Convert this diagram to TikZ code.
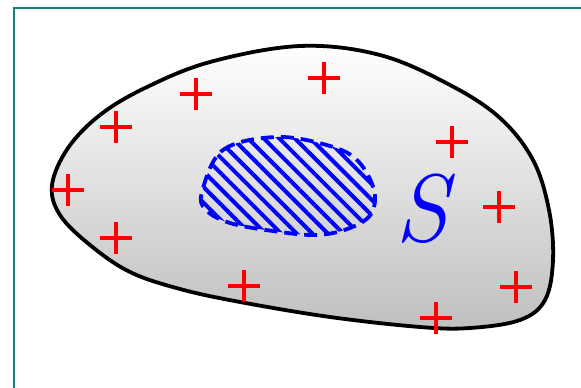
\documentclass[tikz,border=0pt]{standalone}
\usetikzlibrary{patterns.meta}
\definecolor{frameteal}{RGB}{30, 125, 125}
\definecolor{chargered}{RGB}{255, 0, 0}
\definecolor{holeblue}{RGB}{0, 0, 255}

\begin{document}
\begin{tikzpicture}[x=1pt, y=-1pt,
    charge/.style={chargered, line width=4pt},
    body/.style={line width=3.8pt, top color=white, bottom color=black!25}]
        \useasboundingbox (0,0) rectangle (581,388);
        \clip (0,0) rectangle (581,388);
        % Frame
        \draw[frameteal, line width=2pt] (14,7.5) rectangle (620,420);
        % Conductor
        \draw[body] plot[smooth cycle, tension=0.6] coordinates {
            (52,185) (68,148) (100,115) (145,88) (210,62) (300,46) (380,55)
            (450,85) (500,118) (533,160) (549,210) (553,260) (545,300)
            (520,320) (470,328) (420,327) (330,317) (240,302) (180,289)
            (130,272) (90,245) (60,215)};
        % Cavity
        \fill[pattern={Lines[angle=-45, distance=11pt, line width=4pt]}, pattern color=holeblue]
          plot[smooth cycle, tension=0.6] coordinates {
            (202,192) (223,150) (277,137) (330,146) (358,161) (374,190)
            (371,214) (350,228) (317,235) (273,231) (230,223) (206,210)};
        \draw[holeblue, line width=3.8pt, dash pattern=on 13pt off 7pt]
          plot[smooth cycle, tension=0.6] coordinates {
            (202,192) (223,150) (277,137) (330,146) (358,161) (374,190)
            (371,214) (350,228) (317,235) (273,231) (230,223) (206,210)};
        % Charges
        \foreach \x/\y in {196/94, 324/78, 116/127, 452/142, 68/190,
            499/207, 116/238, 244/286, 516/287, 436/318}{
          \draw[charge] (\x,\y) ++(-16,0) -- ++(32,0) (\x,\y) ++(0,-16) -- ++(0,32);
        }
        % Label
        \node[holeblue] (surf) at (422,209) {\fontsize{96}{96}\selectfont\itshape S};
      \end{tikzpicture}
\end{document}
